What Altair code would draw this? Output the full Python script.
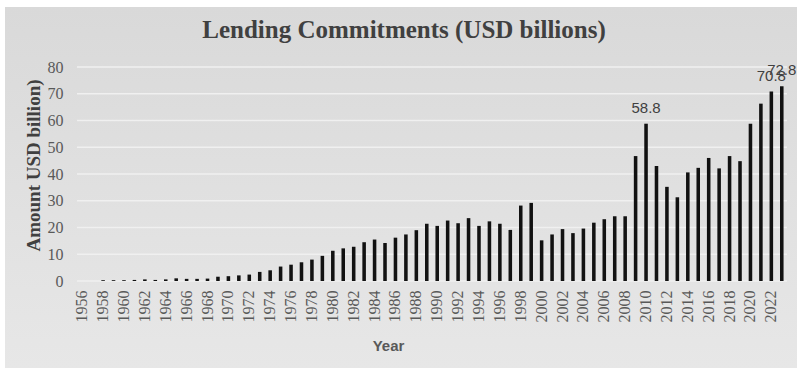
import altair as alt
import pandas as pd

years = list(range(1956, 2024))
amounts = [
    0.0, 0.0, 0.3, 0.3, 0.3, 0.4, 0.6, 0.4, 0.6, 1.0,
    0.8, 0.8, 0.9, 1.6, 1.8, 2.1, 2.4, 3.4, 4.0, 5.4,
    6.1, 7.0, 8.0, 9.4, 11.3, 12.2, 12.8, 14.5, 15.5, 14.2,
    16.2, 17.4, 19.0, 21.4, 20.6, 22.6, 21.6, 23.5, 20.6, 22.3,
    21.4, 19.1, 28.2, 29.2, 15.2, 17.4, 19.4, 17.9, 19.6, 21.8,
    23.1, 24.2, 24.2, 46.7, 58.8, 43.0, 35.2, 31.3, 40.6, 42.3,
    46.0, 42.1, 46.7, 44.8, 58.8, 66.3, 70.8, 72.8,
]
label_years = [2010, 2022, 2023]
label_texts = ["58.8", "70.8", "72.8"]
x_tick_labels = list(range(1956, 2023, 2))
y_ticks = [0, 10, 20, 30, 40, 50, 60, 70, 80]

df = pd.DataFrame({"Year": years, "Amount": amounts})
labels_df = pd.DataFrame({
    "Year": label_years,
    "Amount": [amounts[years.index(y)] for y in label_years],
    "Label": label_texts,
})
grid_df = pd.DataFrame({"Amount": y_ticks})

W, H = 710, 214
x_scale = alt.Scale(domain=years, paddingInner=0.66, paddingOuter=0.33)
y_scale = alt.Scale(domain=[0, 80], nice=False)

x_axis = alt.Axis(values=x_tick_labels, labelAngle=-90, ticks=False, domain=False,
                  zindex=2,
                  labelFont="Liberation Serif", labelFontSize=16, labelColor="#595959",
                  labelPadding=9, title="Year", titleFont="Liberation Sans",
                  titleFontSize=15, titleFontWeight="bold", titleColor="#595959",
                  titleX=311, titleY=64, titleBaseline="middle", titleAlign="center")
y_axis = alt.Axis(values=y_ticks, ticks=False, domain=False, grid=False, zindex=2,
                  labelFont="Liberation Serif", labelFontSize=16, labelColor="#595959",
                  labelPadding=14, title="Amount USD billion)",
                  titleFont="Liberation Serif", titleFontSize=19,
                  titleFontWeight="bold", titleColor="#404040",
                  titleAngle=-90, titleX=-44, titleY=98,
                  titleBaseline="middle", titleAlign="center")

bg = alt.Chart(pd.DataFrame({"a": [0]})).mark_rect(
    color=alt.LinearGradient(
        gradient="linear",
        stops=[alt.GradientStop(color="#d9d9d9", offset=0),
               alt.GradientStop(color="#e7e7e7", offset=1)],
        x1=0, x2=0, y1=0, y2=1,
    )
).encode(x=alt.value(-72), x2=alt.value(720), y=alt.value(-60), y2=alt.value(301))

grid = alt.Chart(grid_df).mark_rule(color="#f0f0f0", strokeWidth=1.5).encode(
    y=alt.Y("Amount:Q", scale=y_scale, axis=y_axis)
)

bars = alt.Chart(df).mark_bar(color="#111111").encode(
    x=alt.X("Year:O", scale=x_scale, axis=x_axis),
    y=alt.Y("Amount:Q", scale=y_scale, axis=y_axis),
)

texts = alt.Chart(labels_df).mark_text(
    font="Liberation Sans", fontSize=15, color="#404040", baseline="middle", dy=-16
).encode(
    x=alt.X("Year:O", scale=x_scale, axis=x_axis),
    y=alt.Y("Amount:Q", scale=y_scale, axis=y_axis),
    text="Label:N",
)

chart = alt.layer(bg, grid, bars, texts).properties(
    width=W, height=H,
    autosize=alt.AutoSizeParams(type="none"),
    padding={"left": 77, "top": 67, "right": 10, "bottom": 89},
    background="#ffffff",
    title=alt.TitleParams(
        "Lending Commitments (USD billions)", font="Liberation Serif", fontSize=25,
        fontWeight="bold", color="#404040", anchor="middle", dx=-28, offset=-36, zindex=2,
    ),
).configure_view(stroke=None)

chart.save("out.html", embed_options={"renderer": "svg", "actions": False})
